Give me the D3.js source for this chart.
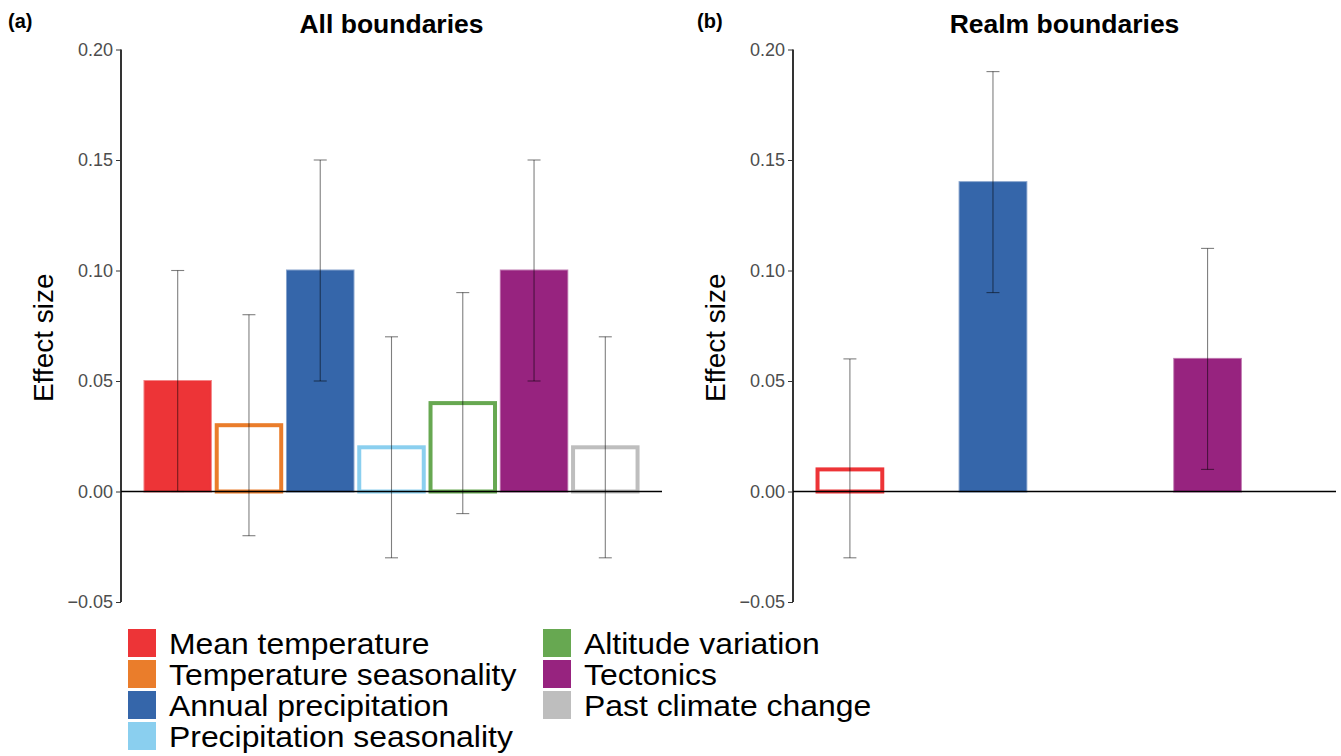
<!DOCTYPE html>
<html>
<head>
<meta charset="utf-8">
<script src="https://cdn.jsdelivr.net/npm/d3@7"></script>
<style>
  html, body { margin: 0; padding: 0; background: #fff; }
  svg { display: block; font-family: "Liberation Sans", Arial, Helvetica, sans-serif; }
</style>
</head>
<body>
<svg id="chart" width="1341" height="756"></svg>
<script>
// ---- data ----
const categories = ["Mean temperature", "Temperature seasonality", "Annual precipitation",
  "Precipitation seasonality", "Altitude variation", "Tectonics", "Past climate change"];
const colors = ["#ED3437", "#EA7D2B", "#3566AA", "#8ACFEF", "#67A851", "#97237F", "#BEBEBE"];

const allValues = [0.05, 0.03, 0.10, 0.02, 0.04, 0.10, 0.02];
const allLower  = [0.00, -0.02, 0.05, -0.03, -0.01, 0.05, -0.03];
const allUpper  = [0.10, 0.08, 0.15, 0.07, 0.09, 0.15, 0.07];
const allFilled = [true, false, true, false, false, true, false];

const realmCategories = ["Mean temperature", "Annual precipitation", "Tectonics"];
const realmValues = [0.01, 0.14, 0.06];
const realmLower  = [-0.03, 0.09, 0.01];
const realmUpper  = [0.06, 0.19, 0.11];
const realmFilled = [false, true, true];

const yTicks = [-0.05, 0.00, 0.05, 0.10, 0.15, 0.20];
const panelTitles = ["All boundaries", "Realm boundaries"];
const panelTags = ["(a)", "(b)"];
const yLabel = "Effect size";

// ---- drawing ----
const svg = d3.select("#chart");
const color = d3.scaleOrdinal().domain(categories).range(colors);
const y = d3.scaleLinear().domain([-0.05, 0.20]).range([602, 49.5]);
const fmt = d3.format(".2f");

function panel(opts) {
  const { x0, x1, names, values, lower, upper, filled, title, tag, tagX } = opts;
  const x = d3.scaleBand().domain(categories).range([x0, x1])
    .paddingInner(0.067).paddingOuter(0.329);
  const g = svg.append("g");

  const rows = names.map((n, i) => ({ name: n, v: values[i], lo: lower[i], hi: upper[i], f: filled[i] }));

  // bars
  g.selectAll("rect.bar").data(rows).enter().append("rect")
    .attr("class", "bar")
    .attr("x", d => d.f ? x(d.name) : x(d.name) + 1)
    .attr("width", d => d.f ? x.bandwidth() : x.bandwidth() - 2)
    .attr("y", d => y(Math.max(0, d.v)))
    .attr("height", d => Math.abs(y(d.v) - y(0)))
    .attr("fill", d => d.f ? color(d.name) : "#fff")
    .attr("stroke", d => color(d.name))
    .attr("stroke-opacity", d => d.f ? 0.6 : 1)
    .attr("stroke-width", d => d.f ? 2 : 4);

  // zero line
  g.append("line")
    .attr("x1", x0).attr("x2", x1)
    .attr("y1", y(0)).attr("y2", y(0))
    .attr("stroke", "#000").attr("stroke-width", 1.6);

  // error bars
  const cap = 6.5;
  const eb = g.selectAll("g.err").data(rows).enter().append("g")
    .attr("class", "err")
    .attr("stroke", "#000").attr("stroke-opacity", 0.5).attr("stroke-width", 1.1);
  eb.append("line")
    .attr("x1", d => x(d.name) + x.bandwidth() / 2).attr("x2", d => x(d.name) + x.bandwidth() / 2)
    .attr("y1", d => y(d.lo)).attr("y2", d => y(d.hi));
  eb.append("line")
    .attr("x1", d => x(d.name) + x.bandwidth() / 2 - cap).attr("x2", d => x(d.name) + x.bandwidth() / 2 + cap)
    .attr("y1", d => y(d.lo)).attr("y2", d => y(d.lo));
  eb.append("line")
    .attr("x1", d => x(d.name) + x.bandwidth() / 2 - cap).attr("x2", d => x(d.name) + x.bandwidth() / 2 + cap)
    .attr("y1", d => y(d.hi)).attr("y2", d => y(d.hi));

  // y axis
  const ax = g.append("g").attr("transform", `translate(${x0},0)`)
    .call(d3.axisLeft(y).tickValues(yTicks).tickFormat(fmt).tickSize(5).tickPadding(3));
  ax.select(".domain").attr("stroke", "#000").attr("stroke-width", 1.6)
    .attr("d", `M0,${y(-0.05)}V${y(0.20)}`);
  ax.selectAll(".tick line").attr("stroke", "#333").attr("stroke-width", 1);
  ax.selectAll(".tick text").attr("fill", "#4D4D4D")
    .style("font-size", "18px").style("font-family", "'Liberation Sans', Arial, sans-serif");

  // y label
  g.append("text")
    .attr("transform", `translate(${x0 - 68},${(y(-0.05) + y(0.20)) / 2 + 12}) rotate(-90)`)
    .attr("text-anchor", "middle")
    .style("font-size", "28px").attr("fill", "#000")
    .text(yLabel);

  // title
  g.append("text")
    .attr("x", (x0 + x1) / 2).attr("y", 33)
    .attr("text-anchor", "middle")
    .style("font-size", "26.5px").style("font-weight", "bold")
    .text(title);

  // tag
  g.append("text")
    .attr("x", tagX).attr("y", 28)
    .style("font-size", "20px").style("font-weight", "bold")
    .text(tag);
}

panel({ x0: 121, x1: 662, names: categories, values: allValues, lower: allLower, upper: allUpper,
  filled: allFilled, title: panelTitles[0], tag: panelTags[0], tagX: 8 });
panel({ x0: 793, x1: 1336, names: realmCategories, values: realmValues, lower: realmLower, upper: realmUpper,
  filled: realmFilled, title: panelTitles[1], tag: panelTags[1], tagX: 697 });

// legend
const legend = svg.append("g");
const perCol = 4;
const colX = [128, 543];
const rowStep = 31;
const legItems = legend.selectAll("g.item").data(categories).enter().append("g")
  .attr("class", "item")
  .attr("transform", (d, i) => `translate(${colX[Math.floor(i / perCol)]},${629 + (i % perCol) * rowStep})`);
legItems.append("rect")
  .attr("width", 28).attr("height", 28)
  .attr("fill", d => color(d));
legItems.append("text")
  .attr("transform", "translate(41,25) scale(1.1,1)")
  .style("font-size", "29px").attr("fill", "#000")
  .text(d => d);
</script>
</body>
</html>
